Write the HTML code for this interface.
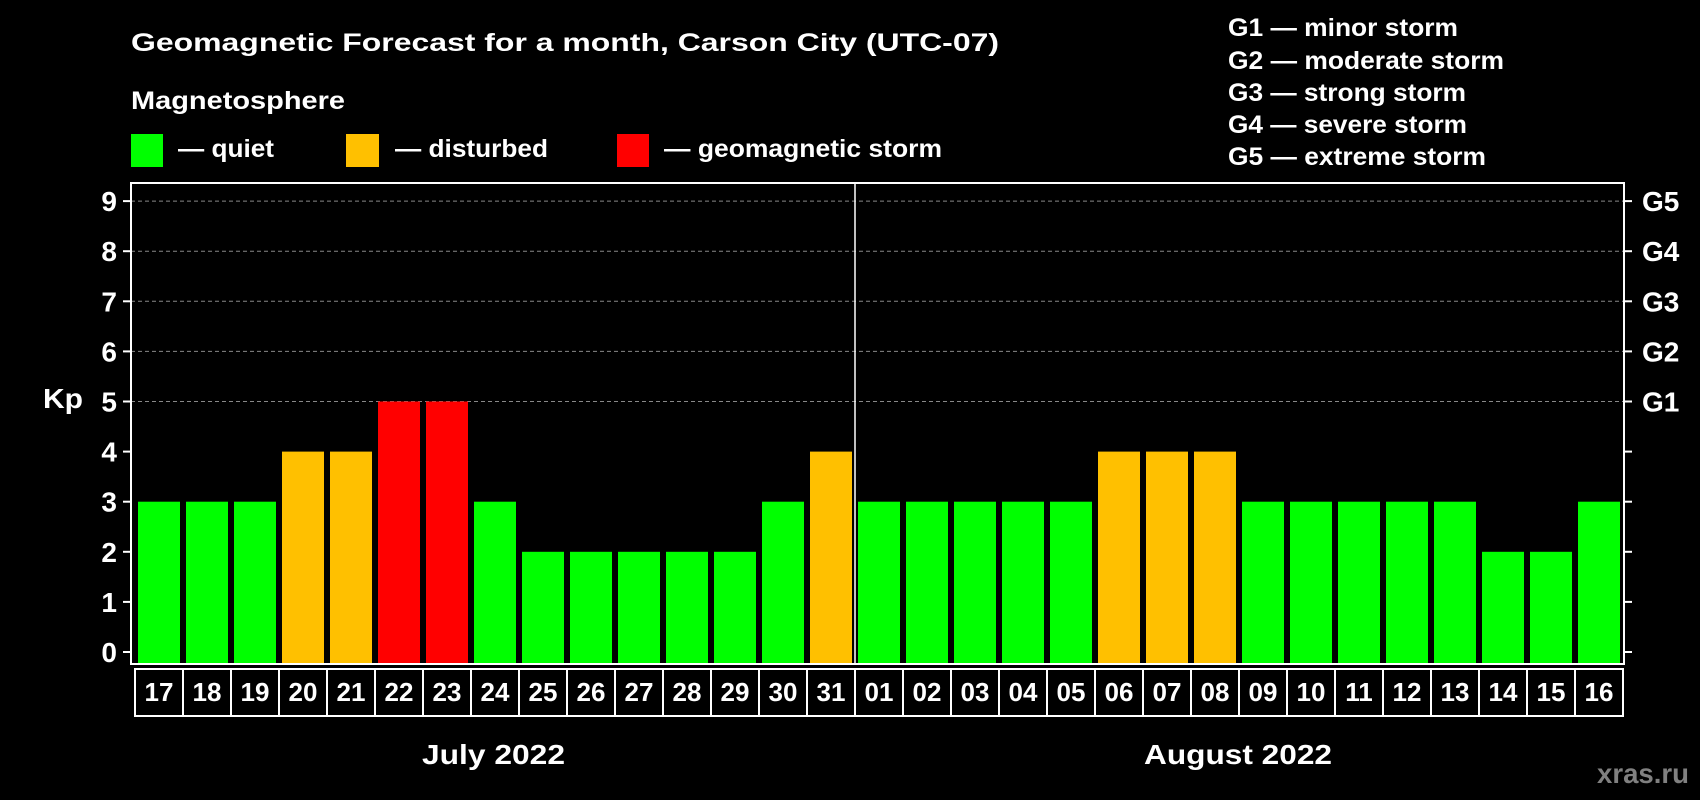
<!DOCTYPE html>
<html><head><meta charset="utf-8"><style>
html,body{margin:0;padding:0;background:#000;}
svg{display:block;font-family:"Liberation Sans",Arial,sans-serif;font-weight:bold;}
</style></head><body>
<svg id="chart" width="1700" height="800" viewBox="0 0 1700 800">
<rect x="0" y="0" width="1700" height="800" fill="#000"/>
<text x="131" y="51" fill="#fff" font-size="25" textLength="868" lengthAdjust="spacingAndGlyphs">Geomagnetic Forecast for a month, Carson City (UTC-07)</text>
<text x="131" y="109" fill="#fff" font-size="25" textLength="214" lengthAdjust="spacingAndGlyphs">Magnetosphere</text>
<g>
<rect x="131" y="134" width="32" height="33" fill="#00ff00"/>
<text x="178" y="157" fill="#fff" font-size="25" textLength="96" lengthAdjust="spacingAndGlyphs">— quiet</text></g>
<g>
<rect x="346" y="134" width="33" height="33" fill="#ffc000"/>
<text x="395" y="157" fill="#fff" font-size="25" textLength="153" lengthAdjust="spacingAndGlyphs">— disturbed</text></g>
<g>
<rect x="617" y="134" width="32" height="33" fill="#ff0000"/>
<text x="664" y="157" fill="#fff" font-size="25" textLength="278" lengthAdjust="spacingAndGlyphs">— geomagnetic storm</text></g>
<g font-size="25" fill="#fff">
<text x="1228" y="36" textLength="230" lengthAdjust="spacingAndGlyphs">G1 — minor storm</text>
<text x="1228" y="69" textLength="276" lengthAdjust="spacingAndGlyphs">G2 — moderate storm</text>
<text x="1228" y="101" textLength="238" lengthAdjust="spacingAndGlyphs">G3 — strong storm</text>
<text x="1228" y="133" textLength="239" lengthAdjust="spacingAndGlyphs">G4 — severe storm</text>
<text x="1228" y="165" textLength="258" lengthAdjust="spacingAndGlyphs">G5 — extreme storm</text>
</g>
<text x="43" y="408" fill="#fff" font-size="28" textLength="40" lengthAdjust="spacingAndGlyphs">Kp</text>
<text x="422" y="764" fill="#fff" font-size="28" textLength="143" lengthAdjust="spacingAndGlyphs">July 2022</text>
<text x="1144" y="764" fill="#fff" font-size="28" textLength="188" lengthAdjust="spacingAndGlyphs">August 2022</text>
<text x="1597" y="783" fill="#808080" font-size="28" textLength="92" lengthAdjust="spacingAndGlyphs">xras.ru</text>
<g id="plot"></g>
</svg>
<script>
const days = ["17","18","19","20","21","22","23","24","25","26","27","28","29","30","31","01","02","03","04","05","06","07","08","09","10","11","12","13","14","15","16"];
const kpValues = [3,3,3,4,4,5,5,3,2,2,2,2,2,3,4,3,3,3,3,3,4,4,4,3,3,3,3,3,2,2,3];
const yTicks = [0,1,2,3,4,5,6,7,8,9];
const gLabels = ["G1","G2","G3","G4","G5"];
const gLevels = [5,6,7,8,9];

const NS = "http://www.w3.org/2000/svg";
const g = document.getElementById("plot");
const L = 131, R = 1624, T = 183, B = 664;
const y0 = 652, unit = 50.1;
const yScale = v => y0 - v * unit;
const cellStart = 135, cellW = 48;
const xCell = i => cellStart + i * cellW;
function mk(tag, attrs){const e=document.createElementNS(NS,tag);for(const k in attrs)e.setAttribute(k,attrs[k]);g.appendChild(e);return e;}

gLevels.forEach(v=>{
  const e = mk("line",{x1:L,x2:R,y1:yScale(v),y2:yScale(v),stroke:"#888","stroke-width":1,"stroke-dasharray":"4,3"});
  
  
});
kpValues.forEach((v,i)=>{
  const col = v>=5 ? "#ff0000" : (v>=4 ? "#ffc000" : "#00ff00");
  const e = mk("rect",{x:xCell(i)+3,y:yScale(v),width:42,height:B-yScale(v),fill:col});
  
  
});
const splitIdx = days.indexOf("01");
const dv = mk("line",{x1:xCell(splitIdx),x2:xCell(splitIdx),y1:T,y2:B,stroke:"#fff","stroke-width":1.5});


const fr = mk("rect",{x:L,y:T,width:R-L,height:B-T,fill:"none",stroke:"#fff","stroke-width":2});


yTicks.forEach(v=>{
  const y = yScale(v);
  const t1 = mk("line",{x1:L-8,x2:L,y1:y,y2:y,stroke:"#fff","stroke-width":2});
  
  
  const t2 = mk("line",{x1:R,x2:R+8,y1:y,y2:y,stroke:"#fff","stroke-width":2});
  
  
  const tx = mk("text",{x:117,y:y+10,fill:"#fff","font-size":28,"text-anchor":"end"});
  tx.textContent = v;
  
  
});
gLabels.forEach((lab,i)=>{
  const tx = mk("text",{x:1642,y:yScale(gLevels[i])+10,fill:"#fff","font-size":28});
  tx.textContent = lab;
  
  
});
days.forEach((d,i)=>{
  const r = mk("rect",{x:xCell(i),y:669,width:cellW,height:47,fill:"none",stroke:"#fff","stroke-width":2});
  
  
  const tx = mk("text",{x:xCell(i)+cellW/2,y:701,fill:"#fff","font-size":26,"text-anchor":"middle"});
  tx.textContent = d;
  
  
});
</script>
</body></html>
